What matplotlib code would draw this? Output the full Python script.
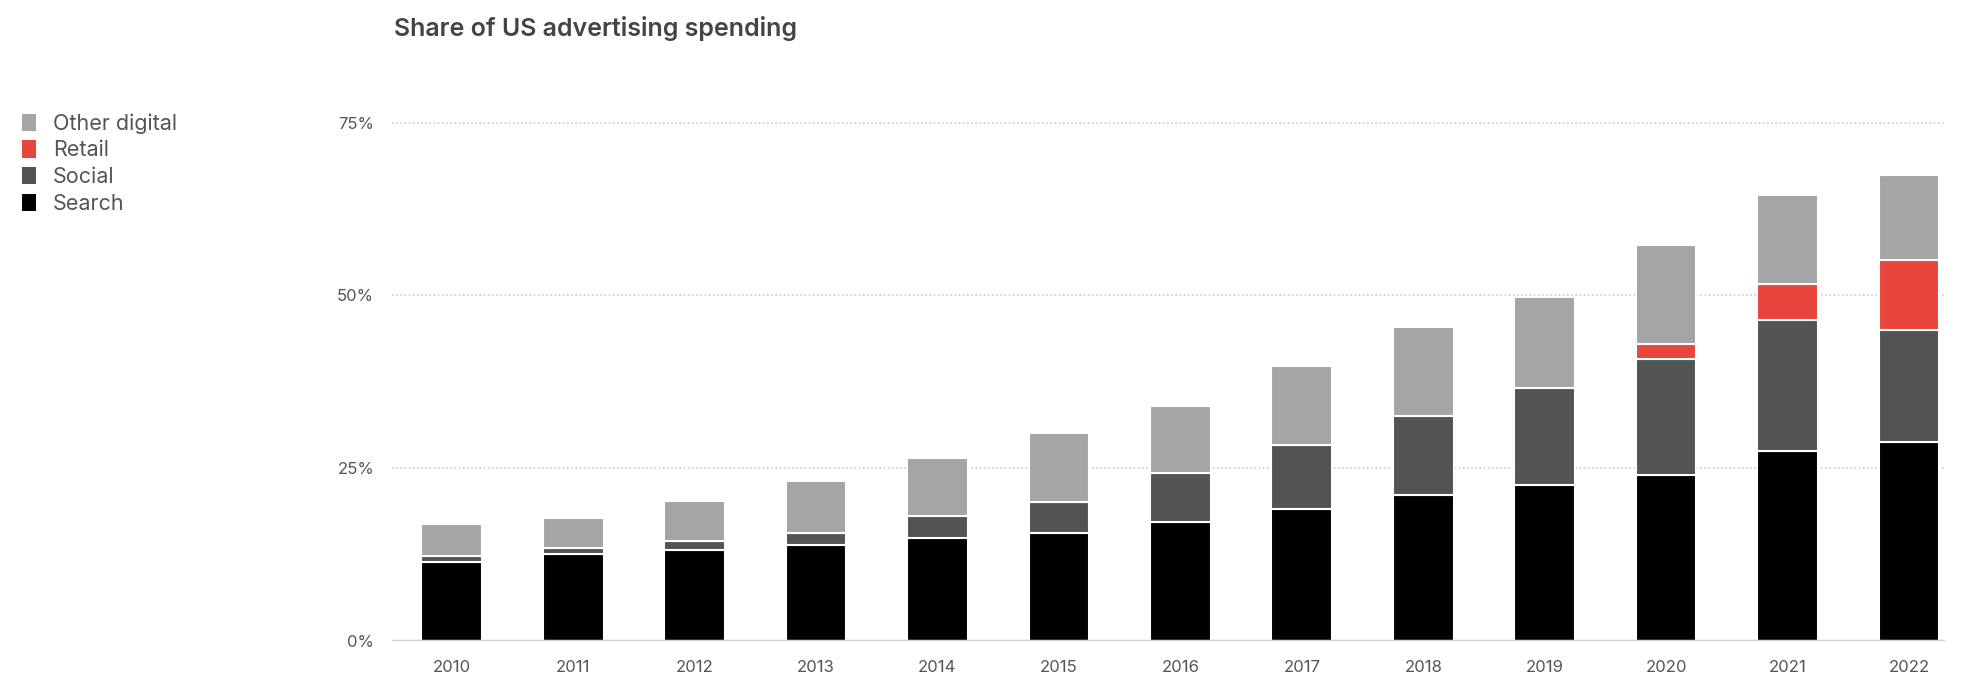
import matplotlib
matplotlib.use("Agg")
import matplotlib.pyplot as plt
from matplotlib.patches import Patch

plt.rcParams['font.family'] = ['Inter', 'DejaVu Sans']

years = ["2010", "2011", "2012", "2013", "2014", "2015", "2016",
         "2017", "2018", "2019", "2020", "2021", "2022"]

# share of US ad spending, percent
search = [11.4, 12.5, 13.1, 13.8, 14.8, 15.6, 17.2, 19.0, 21.0, 22.5, 24.0, 27.4, 28.7]
social = [0.8, 0.9, 1.3, 1.8, 3.2, 4.5, 7.1, 9.3, 11.5, 14.0, 16.7, 19.0, 16.2]
retail = [0, 0, 0, 0, 0, 0, 0, 0, 0, 0, 2.2, 5.2, 10.2]
other = [4.6, 4.3, 5.8, 7.5, 8.4, 9.9, 9.6, 11.4, 12.9, 13.2, 14.4, 12.9, 12.3]

col_search = "#000000"
col_social = "#525355"
col_retail = "#e8463d"
col_other = "#a5a5a7"

fig = plt.figure(figsize=(19.81, 6.90), dpi=100)
ax = fig.add_axes([0.198, 0.0717, 0.784, 0.7507])

x = list(range(len(years)))
b1 = [s + so for s, so in zip(search, social)]
b2 = [a + r for a, r in zip(b1, retail)]

ax.bar(x, search, width=0.5, color=col_search, edgecolor="white", linewidth=1.5, zorder=3)
ax.bar(x, social, width=0.5, bottom=search, color=col_social, edgecolor="white", linewidth=1.5, zorder=3)
ax.bar(x, retail, width=0.5, bottom=b1, color=col_retail, edgecolor="white",
       linewidth=[1.5 if r > 0 else 0 for r in retail], zorder=3)
ax.bar(x, other, width=0.5, bottom=b2, color=col_other, edgecolor="white", linewidth=1.5, zorder=3)

ax.set_xlim(-0.49, 12.3)
ax.set_ylim(0, 75)
ax.set_xticks(x)
ax.set_xticklabels(years)
ax.set_yticks([0, 25, 50, 75])
ax.set_yticklabels(["0%", "25%", "50%", "75%"])
ax.tick_params(axis="both", length=0, labelsize=12, labelcolor="#555555")
ax.tick_params(axis="x", pad=14)
ax.tick_params(axis="y", pad=13)

for s in ax.spines.values():
    s.set_visible(False)
for v in [25, 50, 75]:
    ax.axhline(v, color="#cccccc", linestyle=(0, (1, 1.5)), linewidth=1.2, zorder=1, clip_on=False)
ax.axhline(0, color="#d0d0d0", linewidth=2.5, zorder=4)

fig.text(0.199, 0.958, "Share of US advertising spending", fontsize=18,
         fontweight="semibold", color="#444444", va="center", ha="left")

handles = [Patch(facecolor=col_other, label="Other digital"),
           Patch(facecolor=col_retail, label="Retail"),
           Patch(facecolor=col_social, label="Social"),
           Patch(facecolor=col_search, label="Search")]
leg = fig.legend(handles=handles, loc="upper left", bbox_to_anchor=(0.011, 0.836),
                 frameon=False, fontsize=15.5, handlelength=0.65, handleheight=0.85,
                 handletextpad=0.8, labelspacing=0.31, borderpad=0, borderaxespad=0)
for t in leg.get_texts():
    t.set_color("#555555")

fig.savefig("out.png", dpi=100)
